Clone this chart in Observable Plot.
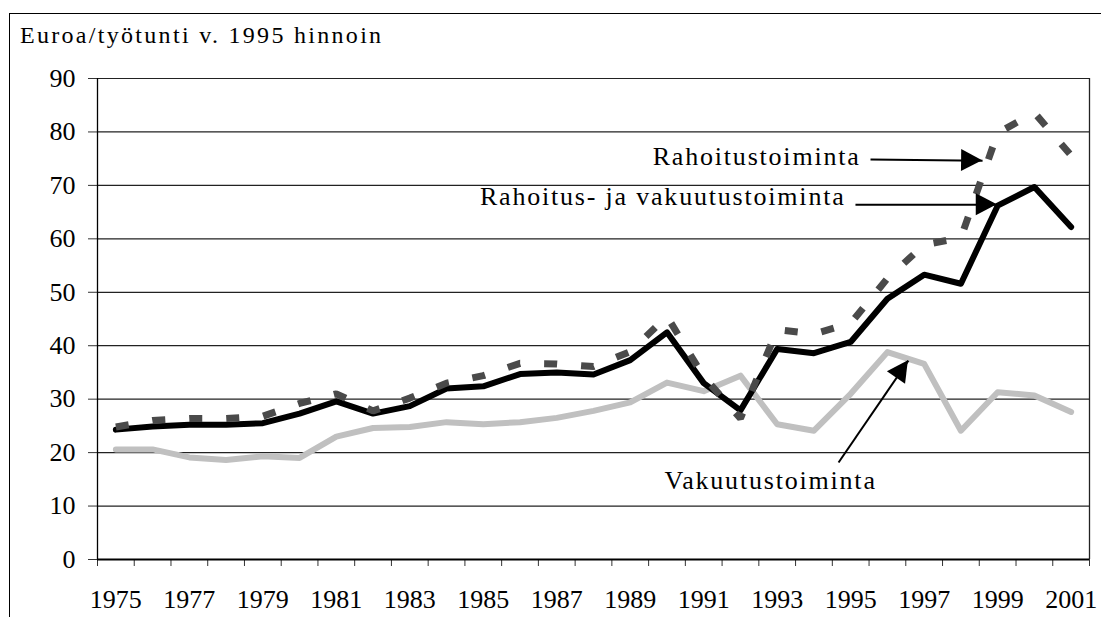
<!DOCTYPE html>
<html><head><meta charset="utf-8">
<script src="https://cdn.jsdelivr.net/npm/d3@7"></script>
<script src="https://cdn.jsdelivr.net/npm/@observablehq/plot@0.6"></script>
<style>
body{margin:0;background:#fff;}
#wrap{position:relative;width:1101px;height:617px;overflow:hidden;font-family:"Liberation Serif","Times New Roman",serif;background:#fff;}
#frame{position:absolute;left:9px;top:13px;width:1200px;height:700px;border-left:1.5px solid #000;border-top:1.5px solid #000;}
#title{position:absolute;left:20px;top:23px;font-family:"Liberation Serif","Times New Roman",serif;font-size:24px;line-height:1;letter-spacing:2.3px;color:#000;white-space:nowrap;}
#chart{position:absolute;left:0;top:0;}
</style></head><body>
<div id="wrap"><div id="frame"></div><div id="title">Euroa/työtunti v. 1995 hinnoin</div><div id="chart"></div></div>
<script>
const years = [1975,1976,1977,1978,1979,1980,1981,1982,1983,1984,1985,1986,1987,1988,1989,1990,1991,1992,1993,1994,1995,1996,1997,1998,1999,2000,2001];
const rahVak = [24.3,24.9,25.2,25.2,25.5,27.3,29.6,27.3,28.7,32.0,32.4,34.7,35.0,34.6,37.3,42.5,33.0,27.9,39.4,38.6,40.7,48.8,53.3,51.6,66.2,69.7,62.2];
const rah = [24.8,26.0,26.4,26.4,26.8,29.2,31.0,27.8,30.2,33.0,34.4,36.7,36.6,36.1,38.9,45.5,34.2,26.4,43.0,42.2,44.2,52.6,58.9,60.2,79.8,83.6,75.6];
const vak = [20.6,20.6,19.1,18.6,19.3,19.0,23.0,24.6,24.8,25.7,25.3,25.7,26.5,27.8,29.4,33.1,31.5,34.4,25.3,24.1,31.0,38.8,36.6,24.1,31.3,30.7,27.6];
const yTicks = [0,10,20,30,40,50,60,70,80,90];
const xLabels = [1975,1977,1979,1981,1983,1985,1987,1989,1991,1993,1995,1997,1999,2001];
const xBounds = [1974.5,1975.5,1976.5,1977.5,1978.5,1979.5,1980.5,1981.5,1982.5,1983.5,1984.5,1985.5,1986.5,1987.5,1988.5,1989.5,1990.5,1991.5,1992.5,1993.5,1994.5,1995.5,1996.5,1997.5,1998.5,1999.5,2000.5,2001.5];
const labelTexts = ["Rahoitustoiminta","Rahoitus- ja vakuutustoiminta","Vakuutustoiminta"];
const labelX = [1995.27,1994.86,1992.82];
const labelY = [75.4,67.9,14.8];
const labelAnchor = ["end","end","middle"];
const arrowX1 = [1995.54,1995.13,1994.67];
const arrowY1 = [74.85,66.4,18.15];
const arrowX2 = [1998.59,1998.99,1996.57];
const arrowY2 = [74.6,66.4,37.2];

const mk = arr => years.map((y,i)=>({year:y, v:arr[i]}));
const labels = labelTexts.map((t,i)=>({t, x:labelX[i], y:labelY[i], a:labelAnchor[i]}));
const arrows = arrowX1.map((x,i)=>({x1:x, y1:arrowY1[i], x2:arrowX2[i], y2:arrowY2[i]}));
const font = '"Liberation Serif","Times New Roman",serif';

const chart = Plot.plot({
  width: 1101, height: 617,
  marginTop: 78, marginLeft: 97, marginRight: 12, marginBottom: 58,
  style: {fontFamily: font, fontSize: "26px", color: "#000", background: "transparent", overflow: "visible"},
  x: {domain: [1974.5, 2001.5], axis: null},
  y: {domain: [0, 90], axis: null},
  marks: [
    Plot.ruleY(yTicks.filter(d=>d>0), {stroke: "#222", strokeWidth: 1.2}),
    Plot.ruleX([2001.5], {stroke: "#222", strokeWidth: 1.3}),
    Plot.axisY({ticks: yTicks, tickSize: 9, tickPadding: 13, tickFormat: d=>String(d), fontSize: 26, label: null, stroke: "#333"}),
    Plot.axisX({ticks: xBounds, tickSize: 7, tickFormat: ()=>"", label: null, stroke: "#333"}),
    Plot.axisX({ticks: xLabels, tickSize: 0, tickPadding: 30, tickFormat: d=>String(d), fontSize: 26, label: null}),
    Plot.ruleX([1974.5], {stroke: "#000", strokeWidth: 1.3}),
    Plot.ruleY([0], {stroke: "#000", strokeWidth: 2.2}),
    Plot.line(mk(vak), {x: "year", y: "v", stroke: "#c0c0c0", strokeWidth: 6, strokeLinejoin: "round"}),
    Plot.line(mk(rahVak), {x: "year", y: "v", stroke: "#000", strokeWidth: 6, strokeLinejoin: "round", strokeLinecap: "round"}),
    Plot.line(mk(rah), {x: "year", y: "v", stroke: "#4a4a4a", strokeWidth: 7, strokeDasharray: "13,24", strokeLinecap: "butt", strokeLinejoin: "miter"}),
    Plot.link(arrows, {x1: "x1", y1: "y1", x2: "x2", y2: "y2", stroke: "#000", strokeWidth: 2}),
    Plot.text(labels.filter(d=>d.a==="end"), {x: "x", y: "y", text: "t", textAnchor: "end", fontSize: 26, fill: "#000"}),
    Plot.text(labels.filter(d=>d.a==="middle"), {x: "x", y: "y", text: "t", textAnchor: "middle", fontSize: 26, fill: "#000"})
  ]
});
document.getElementById("chart").appendChild(chart);
// filled triangular arrow heads, positioned through the chart's scales
const sx = chart.scale("x"), sy = chart.scale("y");
const svg = d3.select(chart);
arrows.forEach(a => {
  const x1 = sx.apply(a.x1), y1 = sy.apply(a.y1), x2 = sx.apply(a.x2), y2 = sy.apply(a.y2);
  const dx = x2-x1, dy = y2-y1, len = Math.hypot(dx,dy), ux = dx/len, uy = dy/len;
  const L = 21, W = 22, bx = x2-ux*L, by = y2-uy*L, nx = -uy, ny = ux;
  svg.append("polygon")
    .attr("points", [[x2,y2],[bx+nx*W/2,by+ny*W/2],[bx-nx*W/2,by-ny*W/2]].map(p=>p.join(",")).join(" "))
    .attr("fill", "#000");
});
svg.selectAll("text").filter(function(){return this.textContent.indexOf("toiminta")>=0;}).style("letter-spacing","1.8px");
</script>
</body></html>
